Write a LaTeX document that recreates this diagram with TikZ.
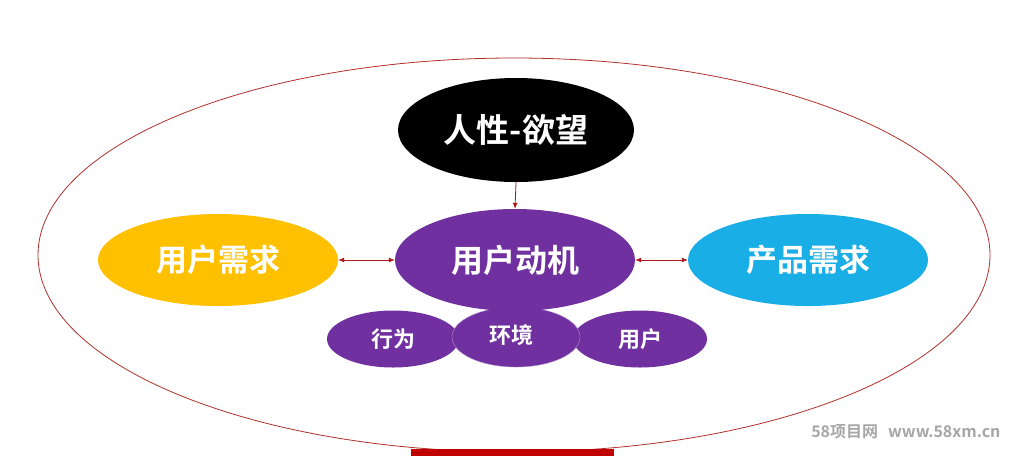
\documentclass[tikz,border=0pt]{standalone}
\usepackage{fontspec}
\newfontfamily\cjk{Noto Sans CJK SC Bold}
\usetikzlibrary{arrows.meta,shapes.geometric}
\definecolor{rimred}{HTML}{B0302C}
\definecolor{arrred}{HTML}{B01818}
\definecolor{purp}{HTML}{7030A0}
\definecolor{yel}{HTML}{FFC000}
\definecolor{sky}{HTML}{1AAEE6}
\definecolor{barred}{HTML}{C00000}
\tikzset{
  blob/.style={ellipse, inner sep=0pt, text=white, font=\cjk},
  link/.style={draw=arrred, line width=0.8pt, -{Latex[length=6pt,width=5pt]}},
  dlink/.style={draw=arrred, line width=0.8pt, {Latex[length=6pt,width=5pt]}-{Latex[length=6pt,width=5pt]}}
}
\begin{document}
\begin{tikzpicture}[x=1pt,y=-1pt]
\useasboundingbox (0,0) rectangle (1024,456);
\fill[white] (0,0) rectangle (1024,456);
% outer ellipse
\draw[rimred, line width=0.8pt] (514,255) ellipse [x radius=476, y radius=197];
% bottom bar
\fill[barred] (411,449) rectangle (614,456);
% nodes
\node[blob, fill=black, minimum width=236pt, minimum height=104pt, font=\cjk\fontsize{33}{33}\selectfont] (hum) at (516,130) {人性-欲望};
\node[blob, fill=yel, minimum width=240pt, minimum height=92pt, font=\cjk\fontsize{31}{31}\selectfont] (un) at (218,260) {用户需求};
\node[blob, fill=sky, minimum width=240pt, minimum height=92pt, font=\cjk\fontsize{31}{31}\selectfont] (pn) at (808,260) {产品需求};
\node[blob, fill=purp, minimum width=132pt, minimum height=57pt, font=\cjk\fontsize{22}{22}\selectfont] (beh) at (393,339) {行为};
\node[blob, fill=purp, minimum width=134pt, minimum height=57pt, font=\cjk\fontsize{22}{22}\selectfont] (usr) at (640,339) {用户};
\node[blob, fill=purp, draw=purp!55!white, line width=0.4pt, minimum width=128pt, minimum height=60pt] (env) at (516,337) {};
\node[blob, fill=purp, minimum width=240pt, minimum height=102pt, font=\cjk\fontsize{32}{32}\selectfont] (mot) at (515,260) {用户动机};
\node[text=white, font=\cjk\fontsize{22}{22}\selectfont] (envt) at (511,335) {环境};
% connectors
\draw[link] (hum.south) -- (mot.north);
\draw[dlink] (un.east) -- (mot.west);
\draw[dlink] (mot.east) -- (pn.west);
% watermark
\node[text=black!35, font=\cjk\fontsize{16}{16}\selectfont, anchor=east] (wm) at (1004,432) {58项目网\hspace{10pt}www.58xm.cn};
\end{tikzpicture}
\end{document}
